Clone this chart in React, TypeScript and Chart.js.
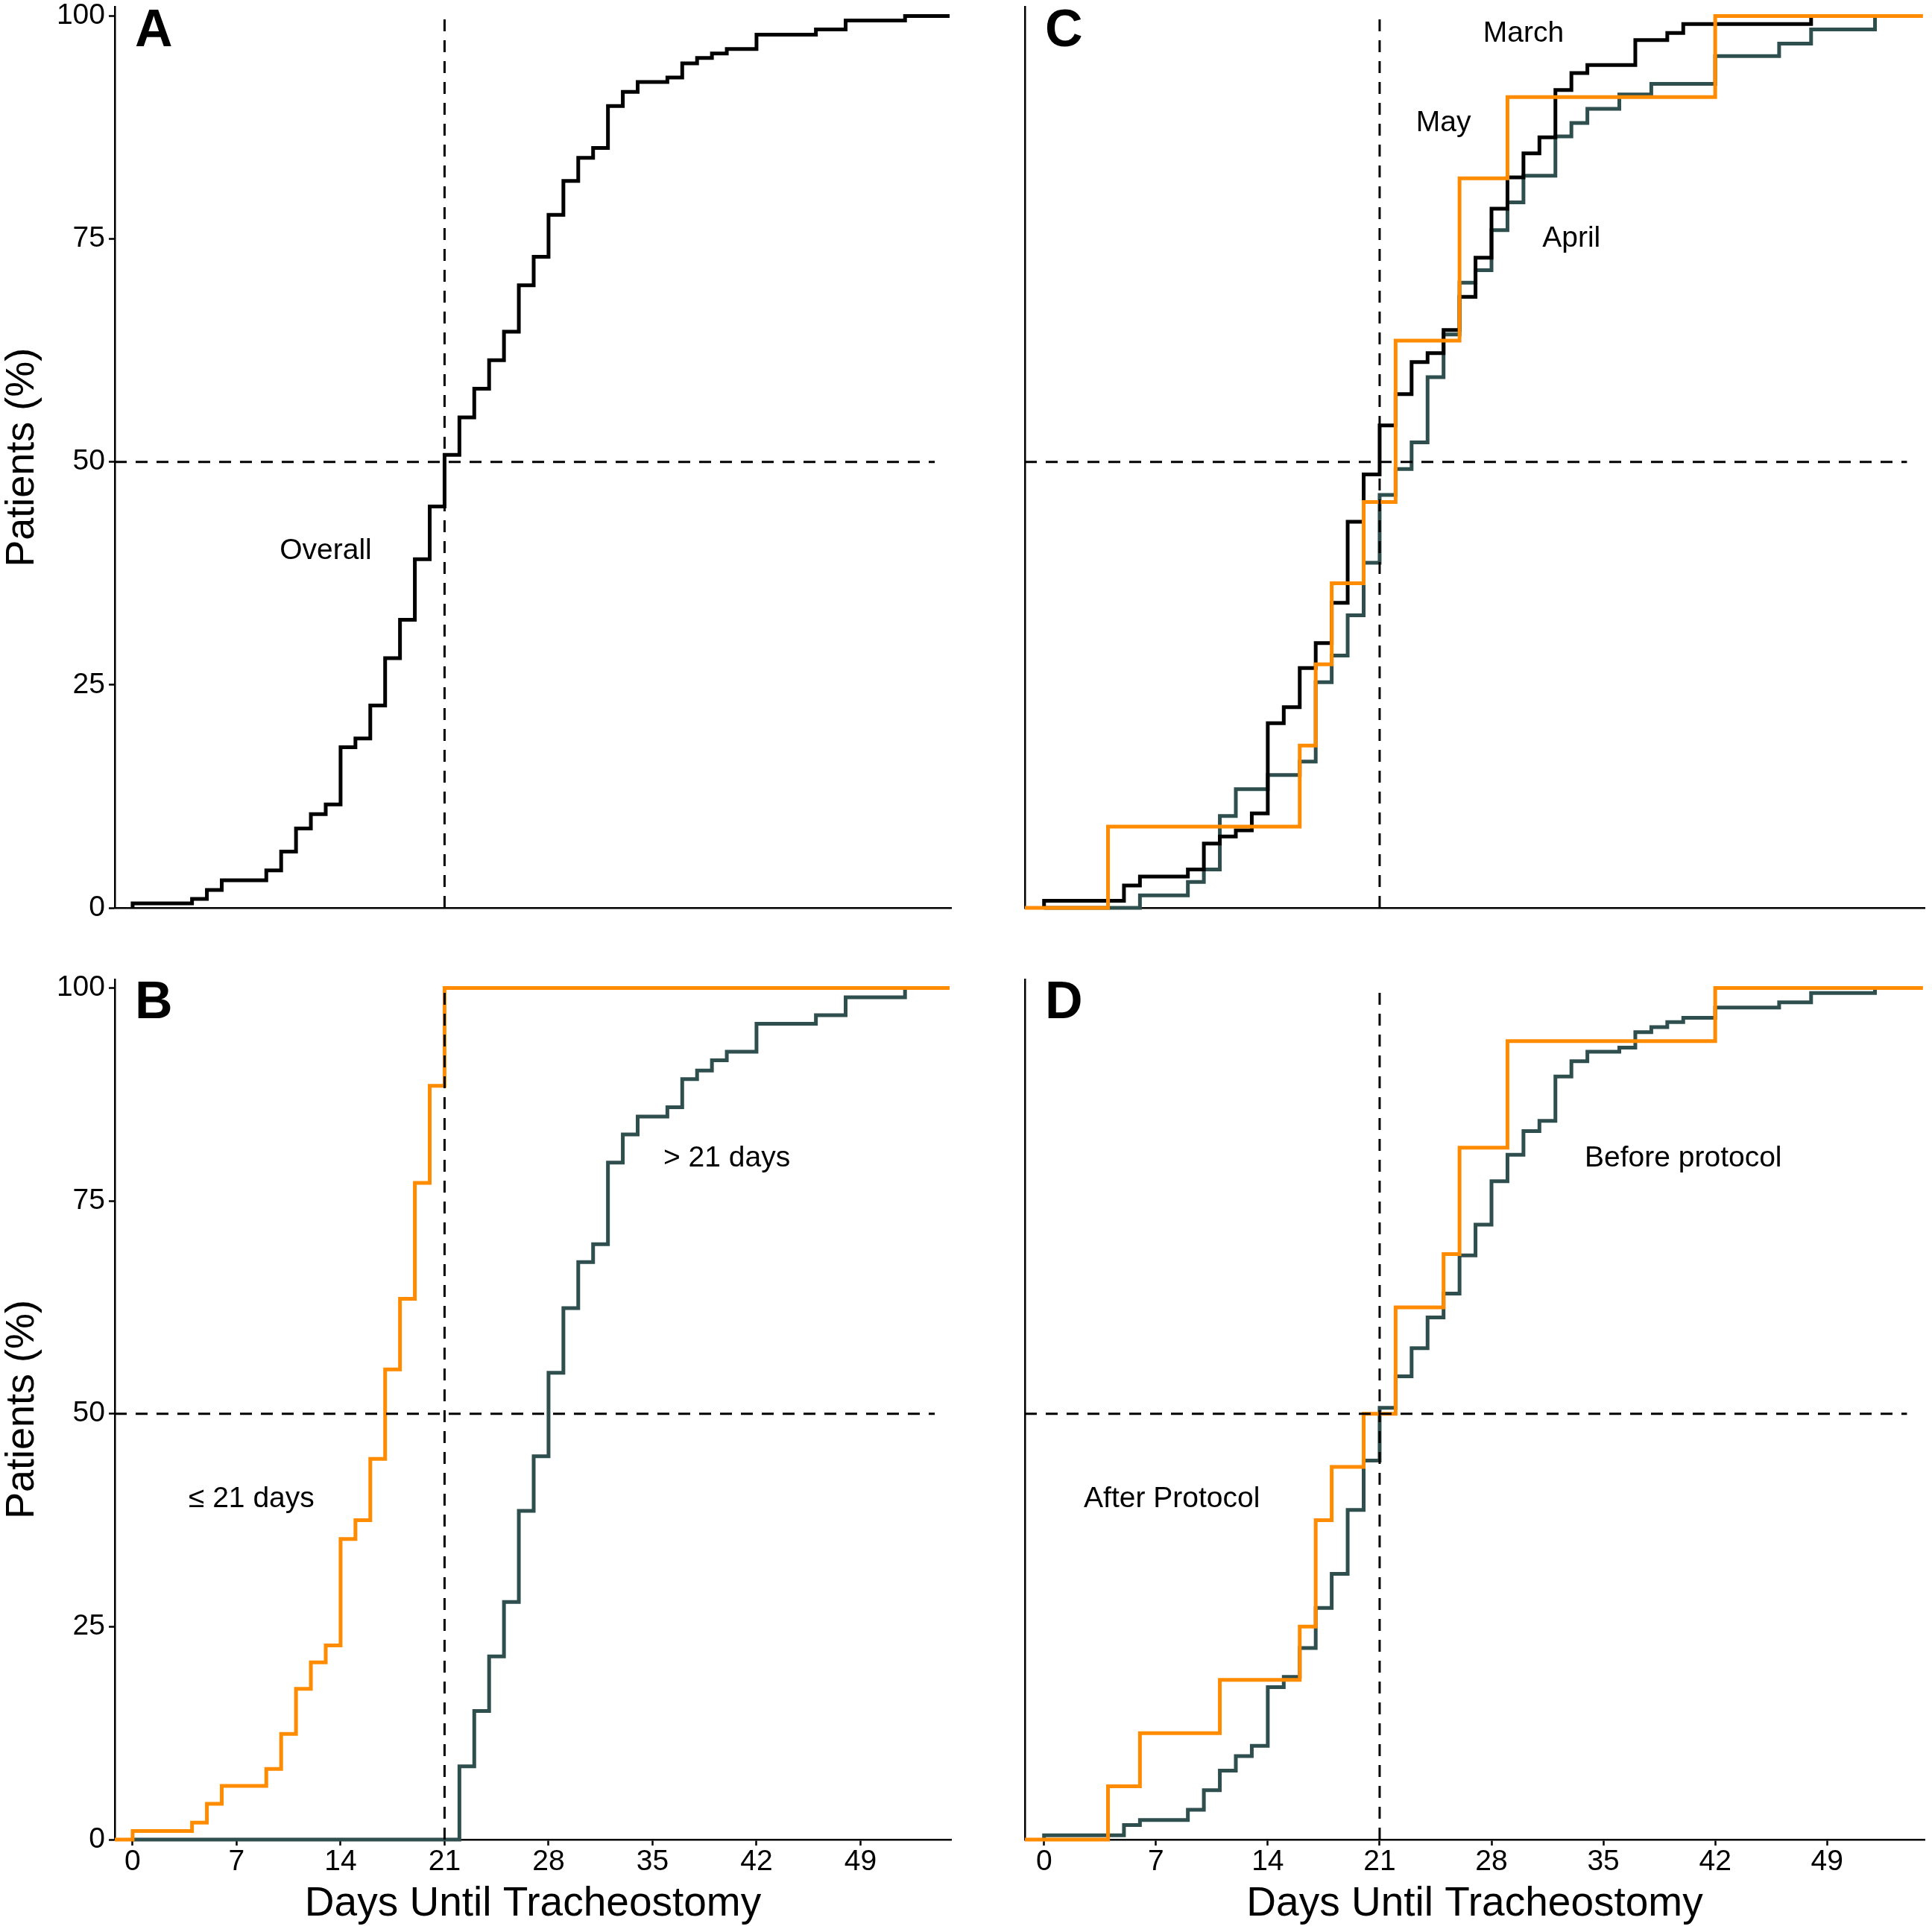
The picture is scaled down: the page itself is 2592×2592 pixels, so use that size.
import { useEffect, useRef } from "react"
import { Chart, registerables, type ChartConfiguration, type Plugin } from "chart.js"

Chart.register(...registerables)

const FONT_FAMILY = '"Liberation Sans", Arial, Helvetica, sans-serif'
const INK = "#000000"
const SLATE = "#2F4F4F"
const ORANGE = "#FF8C00"

// shared axes
const DAY_MIN = -1.2
const DAY_MAX = 55.1
const PCT_MAX = 101
const DAY_TICKS = [0, 7, 14, 21, 28, 35, 42, 49]
const PCT_TICKS = [0, 25, 50, 75, 100]
const X_TITLE = "Days Until Tracheostomy"
const Y_TITLE = "Patients (%)"

// reference guides: 21 day cut-off and the median
const CUTOFF_DAY = 21
const MEDIAN_PCT = 50
const GUIDE_END_DAY = 54

// A - overall
const overallDays = [0, 0, 4, 5, 6, 9, 10, 11, 12, 13, 14, 15, 16, 17, 18, 19, 20, 21, 22, 23, 24, 25, 26, 27, 28, 29, 30, 31, 32, 33, 34, 36, 37, 38, 39, 40, 42, 46, 48, 52, 55]
const overallPct = [0, 0.5, 1.0, 2.0, 3.1, 4.2, 6.3, 8.9, 10.5, 11.6, 18.0, 19.0, 22.7, 28.0, 32.3, 39.1, 45.0, 50.8, 55.0, 58.2, 61.4, 64.6, 69.8, 73.0, 77.7, 81.5, 84.1, 85.2, 89.9, 91.5, 92.6, 93.1, 94.7, 95.3, 95.8, 96.3, 97.9, 98.5, 99.5, 100, 100]

// B - early (<= 21 days) vs late (> 21 days)
const earlyDays = [-1.2, 0, 4, 5, 6, 9, 10, 11, 12, 13, 14, 15, 16, 17, 18, 19, 20, 21, 55]
const earlyPct = [0, 1.0, 2.0, 4.2, 6.3, 8.3, 12.4, 17.7, 20.8, 22.8, 35.3, 37.5, 44.7, 55.2, 63.5, 77.1, 88.5, 100, 100]
const lateDays = [0, 22, 23, 24, 25, 26, 27, 28, 29, 30, 31, 32, 33, 34, 36, 37, 38, 39, 40, 42, 46, 48, 52]
const latePct = [0, 8.6, 15.1, 21.5, 27.9, 38.6, 45.0, 54.8, 62.4, 67.8, 69.9, 79.5, 82.8, 84.9, 86.0, 89.3, 90.3, 91.5, 92.5, 95.8, 96.8, 98.9, 100]

// C - by month
const marchDays = [0, 0, 5, 6, 9, 10, 11, 12, 13, 14, 15, 16, 17, 18, 19, 20, 21, 22, 23, 24, 25, 26, 27, 28, 29, 30, 31, 32, 33, 34, 37, 39, 40, 48]
const marchPct = [0, 0.8, 2.5, 3.5, 4.3, 7.2, 8.0, 8.7, 10.6, 20.7, 22.5, 26.9, 29.7, 34.2, 43.3, 48.6, 54.1, 57.6, 61.2, 62.2, 64.8, 68.5, 72.9, 78.4, 81.9, 84.6, 86.4, 91.7, 93.6, 94.5, 97.3, 98.1, 99.1, 100]
const aprilDays = [0, 6, 9, 10, 11, 12, 14, 16, 17, 18, 19, 20, 21, 22, 23, 24, 25, 26, 27, 28, 29, 30, 32, 33, 34, 36, 38, 42, 46, 48, 52]
const aprilPct = [0, 1.4, 2.9, 4.3, 10.3, 13.3, 14.9, 16.4, 25.3, 28.3, 32.8, 38.7, 46.3, 49.2, 52.2, 59.5, 64.3, 70.1, 71.5, 76.0, 79.1, 82.1, 86.5, 88.0, 89.6, 91.2, 92.4, 95.5, 96.9, 98.5, 100]
const mayDays = [-1.2, 4, 16, 17, 18, 20, 22, 26, 29, 42, 55]
const mayPct = [0, 9.1, 18.2, 27.3, 36.4, 45.5, 63.6, 81.8, 90.9, 100, 100]

// D - before / after protocol
const afterDays = [-1.2, 4, 6, 11, 16, 17, 18, 20, 22, 25, 26, 29, 42, 55]
const afterPct = [0, 6.25, 12.5, 18.75, 25, 37.5, 43.75, 50, 62.5, 68.75, 81.25, 93.75, 100, 100]
const beforeDays = [0, 0, 5, 6, 9, 10, 11, 12, 13, 14, 15, 16, 17, 18, 19, 20, 21, 22, 23, 24, 25, 26, 27, 28, 29, 30, 31, 32, 33, 34, 36, 37, 38, 39, 40, 42, 46, 48, 52]
const beforePct = [0, 0.5, 1.7, 2.3, 3.5, 5.8, 8.1, 9.8, 11.0, 17.9, 19.1, 22.5, 27.2, 31.2, 38.7, 44.5, 50.7, 54.4, 57.7, 61.3, 64.1, 68.6, 72.2, 77.3, 80.4, 83.2, 84.4, 89.6, 91.4, 92.5, 93.0, 94.8, 95.4, 96.0, 96.5, 97.7, 98.3, 99.4, 100]

type Curve = { days: number[]; pct: number[]; color: string }
type Note = { text: string; day: number; pct: number }
type PanelSpec = {
  tag: string
  curves: Curve[] // first one ends up on top
  notes: Note[]
  box: { left: number; top: number; width: number; height: number }
  area: { left: number; top: number; right: number; bottom: number }
  yLabels: boolean
  xLabels: boolean
}

const TOP_AREA = { top: 9.5, bottom: 1218 }
const BOTTOM_AREA = { top: 18, bottom: 1172 }

const PANELS: PanelSpec[] = [
  {
    tag: "A",
    curves: [{ days: overallDays, pct: overallPct, color: INK }],
    notes: [{ text: "Overall", day: 13, pct: 40 }],
    box: { left: 0, top: 0, width: 1296, height: 1296 },
    area: { left: 154, right: 1276, ...TOP_AREA },
    yLabels: true,
    xLabels: false,
  },
  {
    tag: "C",
    curves: [
      { days: mayDays, pct: mayPct, color: ORANGE },
      { days: marchDays, pct: marchPct, color: INK },
      { days: aprilDays, pct: aprilPct, color: SLATE },
    ],
    notes: [
      { text: "March", day: 30, pct: 98 },
      { text: "May", day: 25, pct: 88 },
      { text: "April", day: 33, pct: 75 },
    ],
    box: { left: 1296, top: 0, width: 1296, height: 1296 },
    area: { left: 79, right: 1286, ...TOP_AREA },
    yLabels: false,
    xLabels: false,
  },
  {
    tag: "B",
    curves: [
      { days: earlyDays, pct: earlyPct, color: ORANGE },
      { days: lateDays, pct: latePct, color: SLATE },
    ],
    notes: [
      { text: "≤ 21 days", day: 8, pct: 40 },
      { text: "> 21 days", day: 40, pct: 80 },
    ],
    box: { left: 0, top: 1296, width: 1296, height: 1296 },
    area: { left: 154, right: 1276, ...BOTTOM_AREA },
    yLabels: true,
    xLabels: true,
  },
  {
    tag: "D",
    curves: [
      { days: afterDays, pct: afterPct, color: ORANGE },
      { days: beforeDays, pct: beforePct, color: SLATE },
    ],
    notes: [
      { text: "After Protocol", day: 8, pct: 40 },
      { text: "Before protocol", day: 40, pct: 80 },
    ],
    box: { left: 1296, top: 1296, width: 1296, height: 1296 },
    area: { left: 79, right: 1286, ...BOTTOM_AREA },
    yLabels: false,
    xLabels: true,
  },
]

const toPoints = (days: number[], pct: number[]) => days.map((d, i) => ({ x: d, y: pct[i] }))

function KaplanPanel({ panel }: { panel: PanelSpec }) {
  const canvasRef = useRef<HTMLCanvasElement>(null)
  const chartRef = useRef<Chart | null>(null)

  useEffect(() => {
    if (!canvasRef.current) return
    const { box, area } = panel

    if (chartRef.current) chartRef.current.destroy()

    // text labels inside the panel and the panel letter
    const labels: Plugin<"line"> = {
      id: "panelLabels",
      afterDatasetsDraw(chart) {
        const { ctx, chartArea, scales } = chart
        ctx.save()
        ctx.fillStyle = INK
        ctx.font = `39px ${FONT_FAMILY}`
        ctx.textAlign = "center"
        ctx.textBaseline = "middle"
        panel.notes.forEach((n) => {
          ctx.fillText(n.text, scales.x.getPixelForValue(n.day), scales.y.getPixelForValue(n.pct))
        })
        ctx.font = `bold 70px ${FONT_FAMILY}`
        ctx.textAlign = "left"
        ctx.textBaseline = "alphabetic"
        ctx.fillText(panel.tag, chartArea.left + 27, chartArea.top + 52)
        ctx.restore()
      },
    }

    const guide = (data: { x: number; y: number }[]) => ({
      data,
      borderColor: INK,
      borderWidth: 3,
      borderDash: [16, 12],
      pointRadius: 0,
      fill: false,
    })

    const config: ChartConfiguration<"line"> = {
      type: "line",
      data: {
        datasets: [
          guide([
            { x: CUTOFF_DAY, y: 0 },
            { x: CUTOFF_DAY, y: 100 },
          ]),
          guide([
            { x: DAY_MIN, y: MEDIAN_PCT },
            { x: GUIDE_END_DAY, y: MEDIAN_PCT },
          ]),
          ...panel.curves.map((c) => ({
            data: toPoints(c.days, c.pct),
            borderColor: c.color,
            borderWidth: 5,
            stepped: "before" as const,
            pointRadius: 0,
            fill: false,
            clip: 4,
          })),
        ],
      },
      options: {
        animation: false,
        responsive: false,
        devicePixelRatio: 1,
        events: [],
        layout: {
          padding: { left: 0, top: area.top, right: box.width - area.right, bottom: 0 },
        },
        elements: { line: { tension: 0 }, point: { radius: 0 } },
        plugins: {
          legend: { display: false },
          tooltip: { enabled: false },
        },
        scales: {
          x: {
            type: "linear",
            min: DAY_MIN,
            max: DAY_MAX,
            afterBuildTicks: (s) => {
              s.ticks = DAY_TICKS.map((v) => ({ value: v }))
            },
            afterFit: (s: any) => {
              s.height = box.height - area.bottom
              s.paddingLeft = 0
              s.paddingRight = 0
            },
            grid: {
              display: panel.xLabels,
              drawOnChartArea: false,
              drawTicks: true,
              tickLength: 8,
              tickWidth: 2.5,
              tickColor: INK,
            },
            border: { display: true, color: INK, width: 2.5 },
            ticks: {
              display: panel.xLabels,
              color: INK,
              padding: 3,
              autoSkip: false,
              maxRotation: 0,
              font: { family: FONT_FAMILY, size: 39, lineHeight: 1 },
            },
            title: {
              display: panel.xLabels,
              text: X_TITLE,
              color: INK,
              font: { family: FONT_FAMILY, size: 55, lineHeight: 1.2 },
              padding: { top: 0, bottom: 4 },
            },
          },
          y: {
            type: "linear",
            min: 0,
            max: PCT_MAX,
            afterBuildTicks: (s) => {
              s.ticks = PCT_TICKS.map((v) => ({ value: v }))
            },
            afterFit: (s: any) => {
              s.width = area.left
              s.paddingTop = 0
              s.paddingBottom = 0
            },
            grid: {
              display: panel.yLabels,
              drawOnChartArea: false,
              drawTicks: true,
              tickLength: 8,
              tickWidth: 2.5,
              tickColor: INK,
            },
            border: { display: true, color: INK, width: 2.5 },
            ticks: {
              display: panel.yLabels,
              color: INK,
              padding: 5,
              font: { family: FONT_FAMILY, size: 39, lineHeight: 1 },
            },
            title: {
              display: panel.yLabels,
              text: Y_TITLE,
              color: INK,
              font: { family: FONT_FAMILY, size: 54, lineHeight: 1.1 },
              padding: { top: 0, bottom: 0 },
            },
          },
        },
      },
      plugins: [labels],
    }

    chartRef.current = new Chart(canvasRef.current, config)

    return () => {
      if (chartRef.current) {
        chartRef.current.destroy()
        chartRef.current = null
      }
    }
  }, [panel])

  return (
    <canvas
      ref={canvasRef}
      width={panel.box.width}
      height={panel.box.height}
      style={{
        position: "absolute",
        left: panel.box.left,
        top: panel.box.top,
        width: panel.box.width,
        height: panel.box.height,
      }}
    />
  )
}

export default function App() {
  return (
    <div style={{ position: "absolute", left: 0, top: 0, width: 2592, height: 2592, background: "#ffffff" }}>
      {PANELS.map((p) => (
        <KaplanPanel key={p.tag} panel={p} />
      ))}
    </div>
  )
}
